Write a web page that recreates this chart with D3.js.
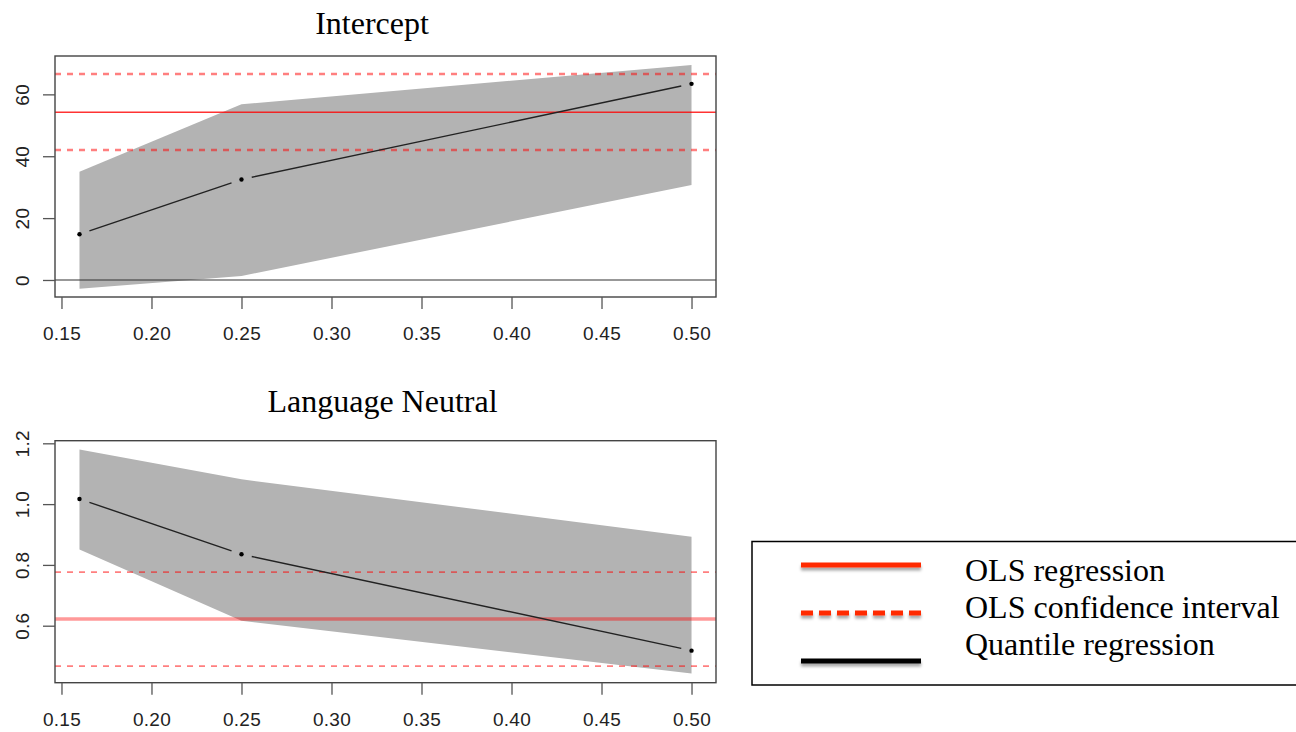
<!DOCTYPE html>
<html>
<head>
<meta charset="utf-8">
<script src="https://cdn.jsdelivr.net/npm/d3@7"></script>
<style>
  body { margin: 0; background: #fff; }
  svg { display: block; }
</style>
</head>
<body>
<div id="chart"></div>
<script>
// quantiles and coefficient estimates
const taus = [0.16, 0.25, 0.50];
const xTicks = [0.15, 0.20, 0.25, 0.30, 0.35, 0.40, 0.45, 0.50];

// Intercept panel
const interceptCoef = [14.8, 32.5, 63.4];
const interceptLo = [-2.8, 1.3, 30.7];
const interceptHi = [35.0, 56.8, 69.5];
const interceptOls = [42.0, 54.2, 66.6]; // lower, estimate, upper
const interceptTicks = [0, 20, 40, 60];

// Language Neutral panel
const langCoef = [1.017, 0.835, 0.518];
const langLo = [0.851, 0.6165, 0.443];
const langHi = [1.180, 1.0815, 0.893];
const langOls = [0.467, 0.622, 0.776];
const langTicks = [0.6, 0.8, 1.0, 1.2];

const legendLabels = ["OLS regression", "OLS confidence interval", "Quantile regression"];

const W = 1296, H = 732;
const svg = d3.select("#chart").append("svg")
    .attr("width", W)
    .attr("height", H);

const defs = svg.append("defs");
defs.append("filter").attr("id", "shadow")
    .attr("filterUnits", "userSpaceOnUse")
    .attr("x", 780).attr("y", 540).attr("width", 160).attr("height", 145)
    .append("feDropShadow")
    .attr("dx", 0).attr("dy", 3).attr("stdDeviation", 1.8)
    .attr("flood-color", "#000").attr("flood-opacity", 0.35);

const x = d3.scaleLinear().domain([0.1464, 0.5136]).range([55, 716]);

const sans = "'Liberation Sans', Arial, Helvetica, sans-serif";
const serif = "'Liberation Serif', 'Times New Roman', serif";

function panel(opts) {
    const y = d3.scaleLinear().domain(opts.yDomain).range([opts.bottom, opts.top]);
    const g = svg.append("g");

    // title
    g.append("text")
        .attr("x", opts.titleX).attr("y", opts.titleY)
        .attr("text-anchor", "middle")
        .style("font-family", serif)
        .style("font-size", "32px")
        .text(opts.title);

    // confidence band of the quantile regression
    const band = taus.map((t, i) => ({ t: t, lo: opts.lo[i], hi: opts.hi[i] }));
    g.append("path")
        .datum(band)
        .attr("fill", "#b3b3b3")
        .attr("d", d3.area()
            .x(d => x(d.t))
            .y0(d => y(d.lo))
            .y1(d => y(d.hi)));

    // zero line
    if (opts.zero) {
        g.append("line")
            .attr("x1", x.range()[0]).attr("x2", x.range()[1])
            .attr("y1", y(0)).attr("y2", y(0))
            .attr("stroke", "#333").attr("stroke-width", 1.1);
    }

    // OLS lines
    [0, 2].forEach(k => {
        g.append("line")
            .attr("x1", x.range()[0]).attr("x2", x.range()[1])
            .attr("y1", y(opts.ols[k])).attr("y2", y(opts.ols[k]))
            .attr("stroke", "#ff0000")
            .attr("stroke-opacity", 0.5)
            .attr("stroke-width", opts.dashW)
            .attr("stroke-dasharray", "6,6");
    });
    g.append("line")
        .attr("x1", x.range()[0]).attr("x2", x.range()[1])
        .attr("y1", y(opts.ols[1])).attr("y2", y(opts.ols[1]))
        .attr("stroke", "#ff0000")
        .attr("stroke-opacity", opts.solidOp)
        .attr("stroke-width", opts.solidW);

    // quantile estimates: points joined by lines with gaps (type = "b")
    const pts = taus.map((t, i) => [x(t), y(opts.coef[i])]);
    const gap = 10.5;
    for (let i = 0; i < pts.length - 1; i++) {
        const [x0, y0] = pts[i], [x1, y1] = pts[i + 1];
        const len = Math.hypot(x1 - x0, y1 - y0);
        const ux = (x1 - x0) / len, uy = (y1 - y0) / len;
        g.append("line")
            .attr("x1", x0 + ux * gap).attr("y1", y0 + uy * gap)
            .attr("x2", x1 - ux * gap).attr("y2", y1 - uy * gap)
            .attr("stroke", "#222").attr("stroke-width", 1.4);
    }
    g.selectAll(".pt")
        .data(pts)
        .join("circle")
        .attr("cx", d => d[0]).attr("cy", d => d[1])
        .attr("r", 2.2)
        .attr("fill", "#000");

    // box
    g.append("rect")
        .attr("x", x.range()[0]).attr("y", opts.top)
        .attr("width", x.range()[1] - x.range()[0])
        .attr("height", opts.bottom - opts.top)
        .attr("fill", "none")
        .attr("stroke", "#444").attr("stroke-width", 1.4);

    // x axis
    const xa = g.append("g")
        .attr("transform", `translate(0,${opts.bottom})`)
        .call(d3.axisBottom(x).tickValues(xTicks).tickFormat(d3.format(".2f"))
            .tickSize(12).tickPadding(18));
    xa.select(".domain").remove();
    xa.selectAll(".tick line").attr("stroke", "#555").attr("stroke-width", 1.3);
    xa.selectAll(".tick text")
        .attr("fill", "#222")
        .style("font-family", sans)
        .style("font-size", "19px")
        .style("letter-spacing", "0.3px");

    // y axis
    const ya = g.append("g")
        .attr("transform", `translate(${x.range()[0]},0)`)
        .call(d3.axisLeft(y).tickValues(opts.yTicks).tickFormat(opts.yFormat)
            .tickSize(12).tickPadding(0));
    ya.select(".domain").remove();
    ya.selectAll(".tick line").attr("stroke", "#555").attr("stroke-width", 1.3);
    ya.selectAll(".tick text")
        .attr("fill", "#222")
        .attr("x", null).attr("dy", null)
        .attr("text-anchor", "middle")
        .attr("transform", "translate(-26,0) rotate(-90)")
        .style("font-family", sans)
        .style("font-size", "19px")
        .style("letter-spacing", "0.3px");
}

panel({
    title: "Intercept", titleX: 372, titleY: 34,
    top: 56, bottom: 297, yDomain: [-5.5, 72.4],
    coef: interceptCoef, lo: interceptLo, hi: interceptHi, ols: interceptOls,
    yTicks: interceptTicks, yFormat: d3.format("d"), zero: true,
    dashW: 2.6, solidW: 1.6, solidOp: 0.8
});

panel({
    title: "Language Neutral", titleX: 382.5, titleY: 412,
    top: 440.7, bottom: 682.7, yDomain: [0.4125, 1.2086],
    coef: langCoef, lo: langLo, hi: langHi, ols: langOls,
    yTicks: langTicks, yFormat: d3.format(".1f"), zero: false,
    dashW: 1.8, solidW: 3.4, solidOp: 0.4
});

// legend
const lg = svg.append("g");
lg.append("rect")
    .attr("x", 752).attr("y", 541.5)
    .attr("width", 600).attr("height", 143.5)
    .attr("fill", "#fff")
    .attr("stroke", "#000").attr("stroke-width", 1.5);

const legendY = [565, 613, 661];
const legendStroke = ["#ff2a00", "#ff2a00", "#000"];
const legendDash = [null, "12,6", null];
legendLabels.forEach((lab, i) => {
    lg.append("line")
        .attr("x1", 801).attr("x2", 921)
        .attr("y1", legendY[i]).attr("y2", legendY[i])
        .attr("stroke", legendStroke[i])
        .attr("stroke-width", 5)
        .attr("stroke-dasharray", legendDash[i])
        .attr("filter", "url(#shadow)");
    lg.append("text")
        .attr("x", 965).attr("y", 580.5 + i * 37)
        .style("font-family", serif)
        .style("font-size", "32px")
        .text(lab);
});
</script>
</body>
</html>
